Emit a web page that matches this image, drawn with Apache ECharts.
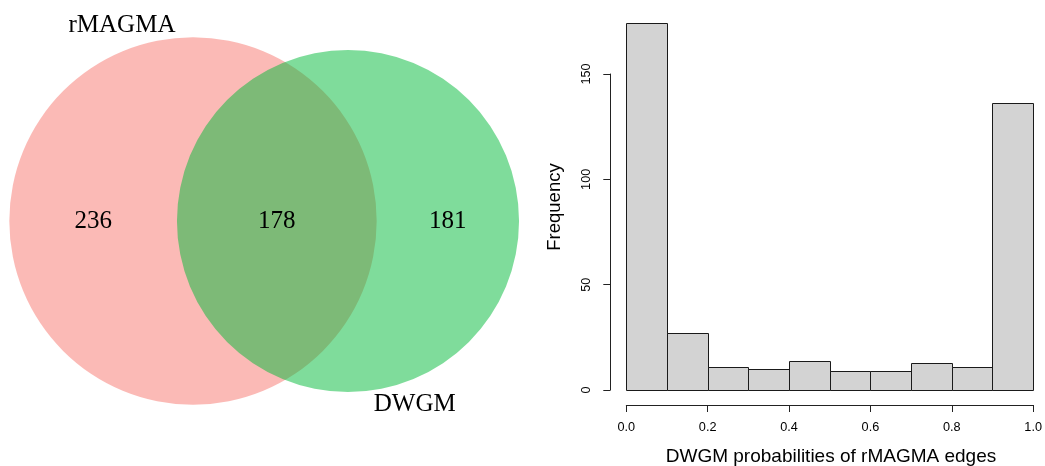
<!DOCTYPE html>
<html>
<head>
<meta charset="utf-8">
<script src="https://cdn.jsdelivr.net/npm/echarts@6/dist/echarts.min.js"></script>
<style>
  html, body { margin: 0; padding: 0; background: #fff; }
  #chart { width: 1045px; height: 466px; }
</style>
</head>
<body>
<div id="chart"></div>
<script>
// ---------- data ----------
var setNames = ['rMAGMA', 'DWGM'];
var onlyCounts = [236, 181];          // rMAGMA only, DWGM only
var overlapCount = 178;

var binEdges = [0.0, 0.1, 0.2, 0.3, 0.4, 0.5, 0.6, 0.7, 0.8, 0.9, 1.0];
var binCounts = [174, 27, 11, 10, 14, 9, 9, 13, 11, 136];
var xTickLabels = ['0.0', '0.2', '0.4', '0.6', '0.8', '1.0'];
var yTickLabels = ['0', '50', '100', '150'];
var xTitle = 'DWGM probabilities of rMAGMA edges';
var yTitle = 'Frequency';

// ---------- Venn geometry (area-proportional, computed from data) ----------
var areaA = onlyCounts[0] + overlapCount;
var areaB = onlyCounts[1] + overlapCount;
var r1 = Math.sqrt(areaA / Math.PI);
var r2 = Math.sqrt(areaB / Math.PI);
function lens(d) {
  var a = Math.acos(Math.max(-1, Math.min(1, (d*d + r1*r1 - r2*r2) / (2*d*r1))));
  var b = Math.acos(Math.max(-1, Math.min(1, (d*d + r2*r2 - r1*r1) / (2*d*r2))));
  var k = (-d + r1 + r2) * (d + r1 - r2) * (d - r1 + r2) * (d + r1 + r2);
  return r1*r1*a + r2*r2*b - 0.5*Math.sqrt(Math.max(0, k));
}
var lo = Math.abs(r1 - r2) + 1e-9, hi = r1 + r2;
for (var it = 0; it < 100; it++) {
  var mid = (lo + hi) / 2;
  if (lens(mid) > overlapCount) lo = mid; else hi = mid;
}
var dist = (lo + hi) / 2;

var circles = [[0, 0, r1, 0], [dist, 0, r2, 1]];
var countLabels = [
  [(-r1 + dist - r2) / 2, 0, onlyCounts[0]],
  [((dist - r2) + r1) / 2, 0, overlapCount],
  [(r1 + dist + r2) / 2, 0, onlyCounts[1]]
];
var catAngles = [-20, 160];   // degrees clockwise from 12 o'clock
var catDist = 1.5;
var catLabels = [
  [0 + (r1 + catDist) * Math.sin(catAngles[0] * Math.PI / 180), (r1 + catDist) * Math.cos(catAngles[0] * Math.PI / 180), setNames[0]],
  [dist + (r2 + catDist) * Math.sin(catAngles[1] * Math.PI / 180), (r2 + catDist) * Math.cos(catAngles[1] * Math.PI / 180), setNames[1]]
];

// Venn grid layout
var vScale = 16;  // px per unit
var vGrid = { left: 0, top: 0, width: 530, height: 440 };
var vCenterPx = [193, 221];
var vx = { min: -vCenterPx[0] / vScale, max: (vGrid.width - vCenterPx[0]) / vScale };
var vy = { min: -(vGrid.height - vCenterPx[1]) / vScale, max: vCenterPx[1] / vScale };

var circleColors = ['rgba(248,118,109,0.5)', 'rgba(0,186,56,0.5)'];
var serif = '"Liberation Serif", "DejaVu Serif", serif';
var sans = '"Liberation Sans", Arial, Helvetica, sans-serif';
var axisColor = '#222';

var histData = binCounts.map(function (c, i) { return [binEdges[i], binEdges[i + 1], c]; });

var chart = echarts.init(document.getElementById('chart'), null, { renderer: 'canvas' });
chart.setOption({
  animation: false,
  backgroundColor: '#fff',
  grid: [
    { left: vGrid.left, top: vGrid.top, width: vGrid.width, height: vGrid.height },
    { left: 626.3, top: 74, width: 409.4, height: 316 }
  ],
  xAxis: [
    { gridIndex: 0, type: 'value', min: vx.min, max: vx.max, show: false },
    {
      gridIndex: 1, type: 'value', min: 0, max: 1, interval: 0.2, offset: 15, position: 'bottom',
      axisLine: { show: true, onZero: false, lineStyle: { color: axisColor, width: 1 } },
      axisTick: { show: true, length: 7, lineStyle: { color: axisColor, width: 1 } },
      axisLabel: {
        show: true, margin: 16, color: '#000', fontSize: 12.7, fontFamily: sans,
        formatter: function (v) {
          var idx = Math.round(v / 0.2);
          return xTickLabels[idx] !== undefined ? xTickLabels[idx] : '';
        }
      },
      splitLine: { show: false }
    }
  ],
  yAxis: [
    { gridIndex: 0, type: 'value', min: vy.min, max: vy.max, show: false },
    {
      gridIndex: 1, type: 'value', min: 0, max: 150, interval: 50, offset: 16, position: 'left',
      axisLine: { show: true, onZero: false, lineStyle: { color: axisColor, width: 1 } },
      axisTick: { show: true, length: 7, lineStyle: { color: axisColor, width: 1 } },
      axisLabel: {
        show: true, rotate: 90, margin: 17, color: '#000', fontSize: 12.7, fontFamily: sans,
        formatter: function (v) {
          var idx = Math.round(v / 50);
          return yTickLabels[idx] !== undefined ? yTickLabels[idx] : '';
        }
      },
      splitLine: { show: false }
    }
  ],
  graphic: [
    {
      type: 'text', position: [831, 457],
      style: { text: xTitle, fontSize: 19, fontFamily: sans, fill: '#000', textAlign: 'center', textVerticalAlign: 'middle' }
    },
    {
      type: 'text', position: [555, 207], rotation: Math.PI / 2,
      style: { text: yTitle, fontSize: 18.5, fontFamily: sans, fill: '#000', textAlign: 'center', textVerticalAlign: 'middle' }
    }
  ],
  series: [
    {
      type: 'custom', xAxisIndex: 0, yAxisIndex: 0, clip: false, silent: true,
      data: circles,
      renderItem: function (params, api) {
        var c = api.coord([api.value(0), api.value(1)]);
        var rp = api.size([api.value(2), 0])[0];
        return {
          type: 'circle',
          shape: { cx: c[0], cy: c[1], r: rp },
          style: { fill: circleColors[api.value(3)], stroke: null }
        };
      }
    },
    {
      type: 'custom', xAxisIndex: 0, yAxisIndex: 0, clip: false, silent: true,
      data: countLabels,
      renderItem: function (params, api) {
        var c = api.coord([api.value(0), api.value(1)]);
        return {
          type: 'text',
          style: { x: c[0], y: c[1], text: String(api.value(2)), fontSize: 25, fontFamily: serif, fill: '#000', align: 'center', verticalAlign: 'middle' }
        };
      }
    },
    {
      type: 'custom', xAxisIndex: 0, yAxisIndex: 0, clip: false, silent: true,
      data: catLabels.map(function (l) { return [l[0], l[1]]; }),
      renderItem: function (params, api) {
        var c = api.coord([api.value(0), api.value(1)]);
        return {
          type: 'text',
          style: { x: c[0], y: c[1], text: catLabels[params.dataIndex][2], fontSize: 25, fontFamily: serif, fill: '#000', align: 'center', verticalAlign: 'middle' }
        };
      }
    },
    {
      type: 'custom', xAxisIndex: 1, yAxisIndex: 1, clip: false, silent: true,
      data: histData,
      renderItem: function (params, api) {
        var p0 = api.coord([api.value(0), 0]);
        var p1 = api.coord([api.value(1), api.value(2)]);
        var x0 = Math.round(p0[0]) + 0.5, x1 = Math.round(p1[0]) + 0.5;
        var yb = Math.round(p0[1]) + 0.5, yt = Math.round(p1[1]) + 0.5;
        return {
          type: 'rect',
          shape: { x: x0, y: yt, width: x1 - x0, height: yb - yt },
          style: { fill: '#D3D3D3', stroke: '#1a1a1a', lineWidth: 1 }
        };
      }
    }
  ]
});
</script>
</body>
</html>
